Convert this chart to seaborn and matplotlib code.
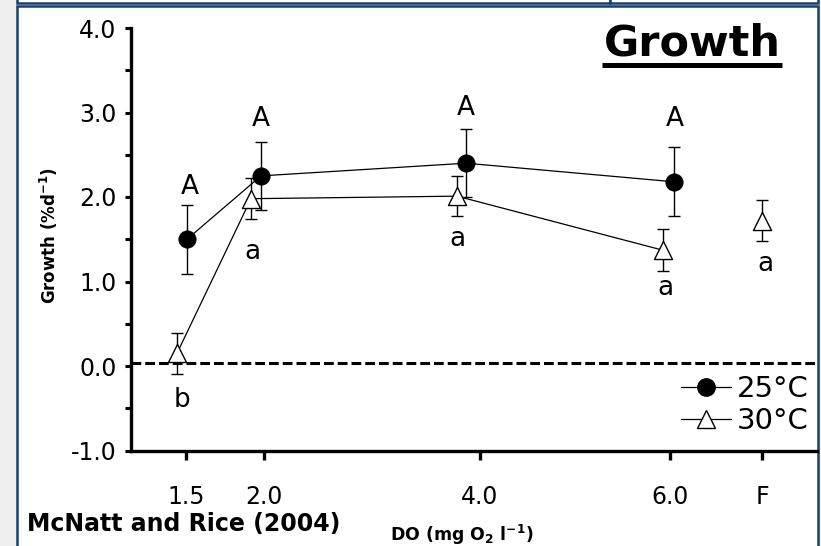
import matplotlib
matplotlib.use("Agg")
import matplotlib.pyplot as plt
import seaborn as sns
import numpy as np
from matplotlib.patches import Rectangle
from matplotlib.lines import Line2D

# ---------------- data ----------------
do_labels = ["1.5", "2.0", "4.0", "6.0", "F"]
tick_pos = [5.5, 13.3, 34.9, 53.9, 63.1]          # category layout on the x axis

# 25 °C
g25_mean = [1.50, 2.25, 2.40, 2.18]
g25_se = [0.41, 0.40, 0.40, 0.41]
g25_pos = [5.6, 13.0, 33.5, 54.3]
g25_letters = ["A", "A", "A", "A"]
g25_letter_x = [5.9, 13.0, 33.5, 54.4]
g25_letter_y = [2.03, 2.84, 2.97, 2.84]

# 30 °C
g30_mean = [0.15, 1.98, 2.01, 1.37, 1.72]
g30_se = [0.24, 0.24, 0.24, 0.25, 0.245]
g30_pos = [4.6, 12.0, 32.6, 53.2, 63.1]
g30_letters = ["b", "a", "a", "a", "a"]
g30_letter_x = [5.1, 12.1, 32.6, 53.4, 63.4]
g30_letter_y = [-0.48, 1.27, 1.42, 0.84, 1.13]

ref_line = 0.04
y_ticks = [-1.0, 0.0, 1.0, 2.0, 3.0, 4.0]
y_minor = [-0.5, 0.5, 1.5, 2.5, 3.5]

# ---------------- style ----------------
sns.set_style("white")
plt.rcParams["font.family"] = ["DejaVu Sans"]
plt.rcParams["axes.unicode_minus"] = False
plt.rcParams["mathtext.fontset"] = "dejavusans"
for k in ["text.color", "axes.labelcolor", "xtick.color", "ytick.color",
          "xtick.labelcolor", "ytick.labelcolor"]:
    plt.rcParams[k] = "black"

W, H = 821, 546
fig = plt.figure(figsize=(W / 100, H / 100), dpi=100, facecolor="#f0f0f0")
navy = "#16406f"

# frames
fig.add_artist(Rectangle((17 / W, -0.05), (818 - 17) / W, 1.05 - 6 / H,
                         transform=fig.transFigure, facecolor="white",
                         edgecolor=navy, lw=1.8, zorder=-2))
fig.add_artist(Rectangle((17 / W, 1 - 3 / H), (610 - 17) / W, 0.1,
                         transform=fig.transFigure, facecolor="white",
                         edgecolor=navy, lw=1.8, zorder=-2))
fig.add_artist(Rectangle((610 / W, 1 - 3 / H), (818 - 610) / W, 0.1,
                         transform=fig.transFigure, facecolor="white",
                         edgecolor=navy, lw=1.8, zorder=-2))

ax = fig.add_axes([131 / W, (H - 450.5) / H, 686 / W, 422.5 / H])
ax.patch.set_visible(False)

ax.axhline(ref_line, color="black", lw=2.2, ls=(0, (3.2, 1.3)), zorder=1)

# 30 °C connecting line (F not connected)
sns.lineplot(x=g30_pos[:4], y=g30_mean[:4], color="black", lw=0.9, ax=ax,
             zorder=2, sort=False)
ax.errorbar(g30_pos, g30_mean, yerr=g30_se, fmt="none", ecolor="black",
            elinewidth=1.0, capsize=4.5, capthick=1.0, zorder=3)
sns.scatterplot(x=g30_pos, y=g30_mean, marker="^", s=13 ** 2, color="white",
                edgecolor="black", linewidth=1.0, ax=ax, zorder=5)

# 25 °C
sns.lineplot(x=g25_pos, y=g25_mean, color="black", lw=0.9, ax=ax, zorder=4,
             sort=False)
ax.errorbar(g25_pos, g25_mean, yerr=g25_se, fmt="none", ecolor="black",
            elinewidth=1.0, capsize=4.5, capthick=1.0, zorder=4)
sns.scatterplot(x=g25_pos, y=g25_mean, marker="o", s=12.5 ** 2, color="black",
                edgecolor="black", linewidth=0.5, ax=ax, zorder=6)

for t, x, y in zip(g25_letters, g25_letter_x, g25_letter_y):
    ax.text(x, y, t, ha="center", va="baseline", fontsize=19, color="black")
for t, x, y in zip(g30_letters, g30_letter_x, g30_letter_y):
    ax.text(x, y, t, ha="center", va="baseline", fontsize=19, color="black")

ax.set_xlim(0, 68.6)
ax.set_ylim(-1, 4)
ax.set_xticks(tick_pos, do_labels)
ax.set_yticks(y_ticks, [f"{v:.1f}" for v in y_ticks])
ax.set_yticks(y_minor, minor=True)
ax.tick_params(axis="y", which="both", direction="out", length=4, width=2.2,
               pad=6.5, labelsize=17, left=True, color="black",
               labelcolor="black")
ax.tick_params(axis="x", which="both", direction="out", length=6.5, width=2.4,
               pad=18, labelsize=17, bottom=True, color="black",
               labelcolor="black")
for s in ["top", "right"]:
    ax.spines[s].set_visible(False)
for s in ["left", "bottom"]:
    ax.spines[s].set_linewidth(2.4)
    ax.spines[s].set_color("black")
ax.set_xlabel("")
ax.set_ylabel(r"Growth (%d$^{\mathbf{-1}}$)", fontsize=12, fontweight="bold",
              color="black")
ax.yaxis.set_label_coords(-0.1028, 0.508)

handles = [
    Line2D([], [], color="black", lw=0.9, marker="o", markersize=12.5,
           mfc="black", mec="black"),
    Line2D([], [], color="black", lw=0.9, marker="^", markersize=13,
           mfc="white", mec="black", mew=1.0),
]
leg = ax.legend(handles, ["25°C", "30°C"], loc="lower right",
                bbox_to_anchor=(0.988, 0.036), frameon=False, fontsize=21,
                handlelength=1.7, handletextpad=0.2, labelspacing=0.15,
                borderpad=0, borderaxespad=0)
for t in leg.get_texts():
    t.set_color("black")

# texts outside axes
fig.text(781 / W, 1 - 56 / H, "Growth", ha="right", va="baseline",
         fontsize=31, fontweight="bold", color="black")
fig.add_artist(Line2D([602 / W, 782 / W], [1 - 65 / H] * 2, lw=3.6,
                      color="black", transform=fig.transFigure,
                      solid_capstyle="butt"))
fig.text(27 / W, 1 - 531 / H, "McNatt and Rice (2004)", ha="left",
         va="baseline", fontsize=17, fontweight="bold", color="black")
fig.text(390 / W, 1 - 541 / H, r"DO (mg O$_\mathbf{2}$ l$^{\mathbf{-1}}$)",
         ha="left", va="baseline", fontsize=12.5, fontweight="bold",
         color="black")

fig.savefig("out.png", dpi=100, facecolor=fig.get_facecolor())
